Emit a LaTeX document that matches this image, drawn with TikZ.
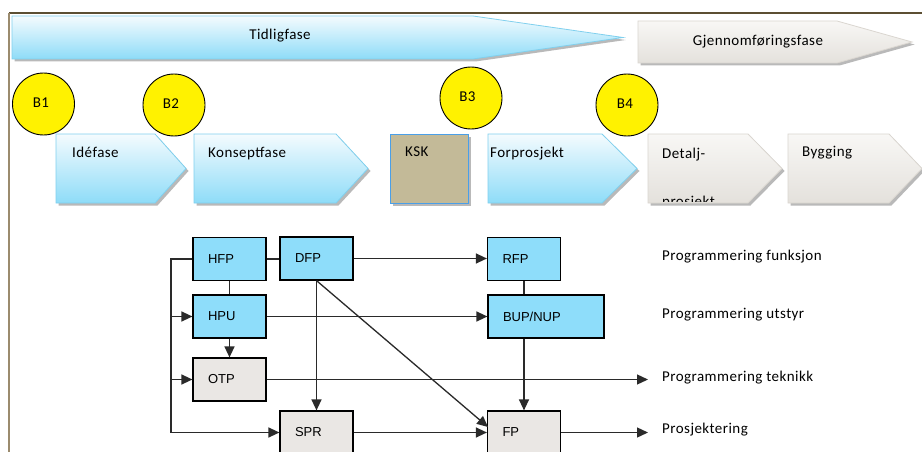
\documentclass[tikz,border=0pt]{standalone}
\usepackage{fontspec}
\setmainfont{Carlito}[LetterSpace=3]
\newfontfamily\boxfont{Liberation Sans}
\usetikzlibrary{arrows.meta,shadows}

\definecolor{frametop}{HTML}{5C4F33}
\definecolor{frameleft}{HTML}{9B8B6E}
\definecolor{bluetop}{HTML}{F4FBFE}
\definecolor{bluebot}{HTML}{8EDCF8}
\definecolor{blueline}{HTML}{80D0EE}
\definecolor{greytop}{HTML}{F8F7F5}
\definecolor{greybot}{HTML}{E4E1DC}
\definecolor{greyline}{HTML}{DAD6D0}
\definecolor{kskfill}{HTML}{C3BA98}
\definecolor{kskline}{HTML}{4A9FE8}
\definecolor{boxblue}{HTML}{8EDDFA}
\definecolor{boxgrey}{HTML}{EAE7E4}
\definecolor{wire}{HTML}{2A2A2A}

\tikzset{
  txt/.style={font=\fontsize{15}{18}\selectfont, inner sep=0pt},
  phaseblue/.style={draw=blueline, line width=0.8pt, top color=bluetop, bottom color=bluebot,
    drop shadow={shadow xshift=2.5pt, shadow yshift=-2.5pt, fill=black!50, opacity=.55}},
  phasegrey/.style={draw=greyline, line width=0.8pt, top color=greytop, bottom color=greybot,
    drop shadow={shadow xshift=2.5pt, shadow yshift=-2.5pt, fill=black!50, opacity=.55}},
  gate/.style={circle, draw=black, line width=0.9pt, fill=yellow, minimum size=62pt, inner sep=0pt},
  gatelabel/.style={txt},
  procbox/.style={draw=black, line width=1.2pt, minimum height=43pt, minimum width=73pt,
    inner xsep=15pt, text width=43pt, align=left, font=\boxfont\fontsize{13}{15}\selectfont},
  bluebox/.style={procbox, fill=boxblue},
  greybox/.style={procbox, fill=boxgrey},
  link/.style={draw=wire, line width=1.3pt},
  arr/.style={link, -{Triangle[length=11pt, width=10pt]}},
}

\begin{document}
\begin{tikzpicture}[x=1pt, y=-1pt]
\useasboundingbox (0,0) rectangle (922,452);
\clip (0,0) rectangle (922,452);
\fill[white] (0,0) rectangle (922,452);

% page frame
\draw[frametop, line width=1.3pt] (9,13) -- (922,13);
\draw[frameleft, line width=1.6pt] (9,13) -- (9,452);

% overall phases
\path[phaseblue] (12,16) -- (473,16) -- (623,37.5) -- (473,59) -- (12,59) -- cycle;
\node[txt, anchor=base] (early) at (280,39.5) {Tidligfase};
\path[phasegrey] (638,21) -- (837,21) -- (912,42) -- (837,63) -- (638,63) -- cycle;
\node[txt, anchor=base] (exec) at (758,46) {Gjennomføringsfase};

% project phases
\path[phaseblue] (56,134) -- (155,134) -- (186,168.5) -- (155,203) -- (56,203) -- cycle;
\node[txt, anchor=base west] (idea) at (72,157.5) {Idéfase};
\path[phaseblue] (194,134) -- (336,134) -- (368,168.5) -- (336,203) -- (194,203) -- cycle;
\node[txt, anchor=base west] (concept) at (208,157.5) {Konseptfase};
\path[draw=kskline, line width=1pt, fill=kskfill,
  drop shadow={shadow xshift=2.5pt, shadow yshift=-2.5pt, fill=black!50, opacity=.55}]
  (390,134) rectangle (468,203);
\node[txt, anchor=base west] (ksk) at (405,156.5) {KSK};
\path[phaseblue] (488,134) -- (602,134) -- (637,168.5) -- (602,203) -- (488,203) -- cycle;
\node[txt, anchor=base west] (pre) at (490,157.5) {Forprosjekt};
\path[phasegrey] (648,134) -- (748,134) -- (782,168.5) -- (748,203) -- (648,203) -- cycle;
\node[txt, anchor=base west] (detail) at (662,158) {Detalj-};
\begin{scope}
  \clip (648,134) rectangle (760,201.5);
  \node[txt, anchor=base west] (detail2) at (662,206.5) {prosjekt};
\end{scope}
\path[phasegrey] (788,134) -- (889,134) -- (922,168.5) -- (889,203) -- (788,203) -- cycle;
\node[txt, anchor=base west] (build) at (802,156.5) {Bygging};

% decision gates
\node[gate] (b1) at (43.5,104) {};
\node[gatelabel, anchor=base] at (41,108) {B1};
\node[gate] (b2) at (174,105) {};
\node[gatelabel, anchor=base] at (171,108.5) {B2};
\node[gate] (b3) at (471,98) {};
\node[gatelabel, anchor=base] at (467.5,102) {B3};
\node[gate] (b4) at (627,105) {};
\node[gatelabel, anchor=base] at (625,108.5) {B4};

% process boxes
\node[bluebox] (hfp) at (229.5,259) {HFP};
\node[bluebox] (dfp) at (316.5,258.5) {DFP};
\node[bluebox] (rfp) at (524,259) {RFP};
\node[bluebox] (hpu) at (229.5,316.5) {HPU};
\node[bluebox, minimum width=116pt, text width=86pt] (bup) at (546,316.5) {BUP/NUP};
\node[greybox] (otp) at (229.5,379.5) {OTP};
\node[greybox] (spr) at (316.5,432.5) {SPR};
\node[greybox] (fp) at (524,432.5) {FP};

% lane labels
\node[txt, anchor=base west] (lf) at (662,260) {Programmering funksjon};
\node[txt, anchor=base west] (lu) at (662,318) {Programmering utstyr};
\node[txt, anchor=base west] (lt) at (662,381) {Programmering teknikk};
\node[txt, anchor=base west] (lp) at (662,433.5) {Prosjektering};

% connectors
\coordinate (bus) at (171,259);
\coordinate (busend) at (171,432.5);
\coordinate (fpin) at (488,427);
\coordinate (otpend) at (648,379.5);
\coordinate (fpend) at (648,432.5);

\draw[arr] (hfp.west) -- (bus) -- (busend) -- (spr.west);
\draw[arr] (hpu.west -| bus) -- (hpu.west);
\draw[arr] (otp.west -| bus) -- (otp.west);
\draw[link] (hfp.east) -- (dfp.west |- hfp.east);
\draw[link] (hfp.south) -- (hpu.north);
\draw[arr] (hpu.south) -- (otp.north);
\draw[arr] (dfp.east) -- (rfp.west |- dfp.east);
\draw[arr] (hpu.east) -- (bup.west);
\draw[link] (rfp.south) -- (bup.north -| rfp.south);
\draw[arr] (bup.south -| fp.north) -- (fp.north);
\draw[arr] (dfp.south) -- (spr.north);
\draw[arr] (dfp.south) -- (fpin);
\draw[arr] (otp.east) -- (otpend);
\draw[arr] (spr.east) -- (fp.west);
\draw[arr] (fp.east) -- (fpend);
\end{tikzpicture}
\end{document}
